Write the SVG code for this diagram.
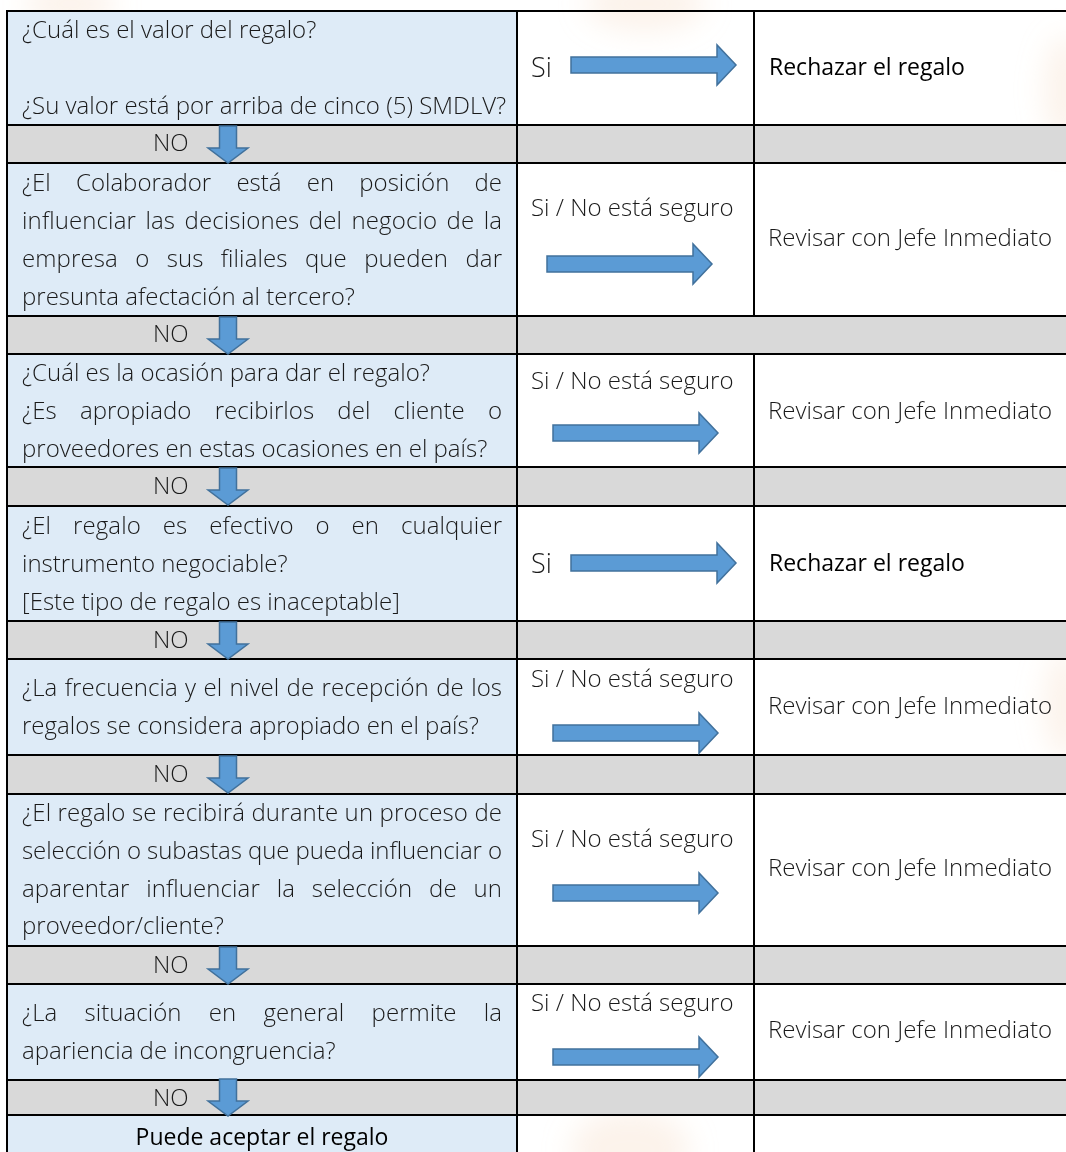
<svg xmlns="http://www.w3.org/2000/svg" width="1066" height="1152" viewBox="0 0 1066 1152">
<style>
.bg{fill:#ffffff}
.wm{fill:#F6DCC6;opacity:0.35}
.q{fill:#DEEBF7}
.g{fill:#D9D9D9}
.grid{stroke:#000;stroke-width:2;fill:none}
text{font-family:"Open Sans","Liberation Sans",sans-serif;font-size:24px;fill:#1a1a1a}
.t{font-weight:300}
.b{font-weight:400;font-size:23px;fill:#000}
.si{font-size:27px;font-weight:300}
.arr{fill:#5B9BD5;stroke:#41719C;stroke-width:1.5}
</style>
<defs>
<filter id="soft" x="-50%" y="-50%" width="200%" height="200%"><feGaussianBlur stdDeviation="14"/></filter>
<path id="ra" d="M0,-8 H146 V-20 L165,0 L146,20 V8 H0 Z"/>
<path id="da" d="M-8.5,0 V22 H-20 L0,37 L20,22 H8.5 V0 Z"/>
</defs>
<rect class="bg" x="0" y="0" width="1066" height="1152"/>
<g id="watermark" filter="url(#soft)">
<ellipse class="wm" cx="645" cy="4" rx="60" ry="28"/>
<ellipse class="wm" cx="70" cy="4" rx="45" ry="22"/>
<ellipse class="wm" cx="1066" cy="90" rx="22" ry="55"/>
<ellipse class="wm" cx="1066" cy="705" rx="22" ry="55"/>
<ellipse class="wm" cx="630" cy="1150" rx="60" ry="40"/>
</g>

<g id="row1">
<rect class="q" x="7" y="11" width="510" height="114"/>
<text class="t" x="22" y="38">¿Cuál es el valor del regalo?</text>
<text class="t" x="22" y="114">¿Su valor está por arriba de cinco (5) SMDLV?</text>
<text class="si" x="531" y="77">Si</text>
<text class="b" x="769" y="75">Rechazar el regalo</text>
</g>
<g id="no1"><rect class="g" x="7" y="125" width="1059" height="38"/><text class="t" x="153" y="151">NO</text></g>

<g id="row2">
<rect class="q" x="7" y="163" width="510" height="153"/>
<text class="t" x="22" y="191" word-spacing="19" textLength="480" lengthAdjust="spacing">¿El Colaborador está en posición de</text>
<text class="t" x="22" y="229" word-spacing="3" textLength="480" lengthAdjust="spacing">influenciar las decisiones del negocio de la</text>
<text class="t" x="22" y="267" word-spacing="11" textLength="480" lengthAdjust="spacing">empresa o sus filiales que pueden dar</text>
<text class="t" x="22" y="305">presunta afectación al tercero?</text>
<text class="t" x="531" y="216">Si / No está seguro</text>
<text class="t" x="768" y="246">Revisar con Jefe Inmediato</text>
</g>
<g id="no2"><rect class="g" x="7" y="316" width="1059" height="38"/><text class="t" x="153" y="342">NO</text></g>

<g id="row3">
<rect class="q" x="7" y="354" width="510" height="113"/>
<text class="t" x="22" y="381">¿Cuál es la ocasión para dar el regalo?</text>
<text class="t" x="22" y="419" word-spacing="17" textLength="480" lengthAdjust="spacing">¿Es apropiado recibirlos del cliente o</text>
<text class="t" x="22" y="457">proveedores en estas ocasiones en el país?</text>
<text class="t" x="531" y="389">Si / No está seguro</text>
<text class="t" x="768" y="419">Revisar con Jefe Inmediato</text>
</g>
<g id="no3"><rect class="g" x="7" y="467" width="1059" height="39"/><text class="t" x="153" y="494">NO</text></g>

<g id="row4">
<rect class="q" x="7" y="506" width="510" height="115"/>
<text class="t" x="22" y="534" word-spacing="15.5" textLength="480" lengthAdjust="spacing">¿El regalo es efectivo o en cualquier</text>
<text class="t" x="22" y="572">instrumento negociable?</text>
<text class="t" x="22" y="610">[Este tipo de regalo es inaceptable]</text>
<text class="si" x="531" y="573">Si</text>
<text class="b" x="769" y="571">Rechazar el regalo</text>
</g>
<g id="no4"><rect class="g" x="7" y="621" width="1059" height="38"/><text class="t" x="153" y="648">NO</text></g>

<g id="row5">
<rect class="q" x="7" y="659" width="510" height="96"/>
<text class="t" x="22" y="696" word-spacing="1" textLength="480" lengthAdjust="spacing">¿La frecuencia y el nivel de recepción de los</text>
<text class="t" x="22" y="734">regalos se considera apropiado en el país?</text>
<text class="t" x="531" y="687">Si / No está seguro</text>
<text class="t" x="768" y="714">Revisar con Jefe Inmediato</text>
</g>
<g id="no5"><rect class="g" x="7" y="755" width="1059" height="39"/><text class="t" x="153" y="782">NO</text></g>

<g id="row6">
<rect class="q" x="7" y="794" width="510" height="152"/>
<text class="t" x="22" y="821" textLength="480" lengthAdjust="spacing">¿El regalo se recibirá durante un proceso de</text>
<text class="t" x="22" y="859" textLength="480" lengthAdjust="spacing">selección o subastas que pueda influenciar o</text>
<text class="t" x="22" y="897" word-spacing="10.5" textLength="480" lengthAdjust="spacing">aparentar influenciar la selección de un</text>
<text class="t" x="22" y="934">proveedor/cliente?</text>
<text class="t" x="531" y="847">Si / No está seguro</text>
<text class="t" x="768" y="876">Revisar con Jefe Inmediato</text>
</g>
<g id="no6"><rect class="g" x="7" y="946" width="1059" height="38"/><text class="t" x="153" y="973">NO</text></g>

<g id="row7">
<rect class="q" x="7" y="984" width="510" height="96"/>
<text class="t" x="22" y="1021" word-spacing="21" textLength="480" lengthAdjust="spacing">¿La situación en general permite la</text>
<text class="t" x="22" y="1059">apariencia de incongruencia?</text>
<text class="t" x="531" y="1011">Si / No está seguro</text>
<text class="t" x="768" y="1038">Revisar con Jefe Inmediato</text>
</g>
<g id="no7"><rect class="g" x="7" y="1080" width="1059" height="35"/><text class="t" x="153" y="1106">NO</text></g>

<g id="final">
<rect class="q" x="7" y="1115" width="510" height="40"/>
<text class="b" x="262" y="1145" text-anchor="middle">Puede aceptar el regalo</text>
</g>

<g id="grid" class="grid">
<path d="M7,11 H1068 M7,125 H1068 M7,163 H1068 M7,316 H1068 M7,354 H1068 M7,467 H1068 M7,506 H1068 M7,621 H1068 M7,659 H1068 M7,755 H1068 M7,794 H1068 M7,946 H1068 M7,984 H1068 M7,1080 H1068 M7,1115 H1068"/>
<path d="M7,10 V1153 M517,10 V1153 M754,10 V316 M754,354 V1153"/>
</g>

<g id="connectors" class="arr">
<use href="#ra" transform="translate(571,65)"/>
<use href="#ra" transform="translate(547,264)"/>
<use href="#ra" transform="translate(553,433)"/>
<use href="#ra" transform="translate(571,563)"/>
<use href="#ra" transform="translate(553,733)"/>
<use href="#ra" transform="translate(553,893)"/>
<use href="#ra" transform="translate(553,1057)"/>
<use href="#da" transform="translate(228,126)"/>
<use href="#da" transform="translate(228,317)"/>
<use href="#da" transform="translate(228,468)"/>
<use href="#da" transform="translate(228,622)"/>
<use href="#da" transform="translate(228,756)"/>
<use href="#da" transform="translate(228,947)"/>
<use href="#da" transform="translate(228,1079)"/>
</g>
</svg>
